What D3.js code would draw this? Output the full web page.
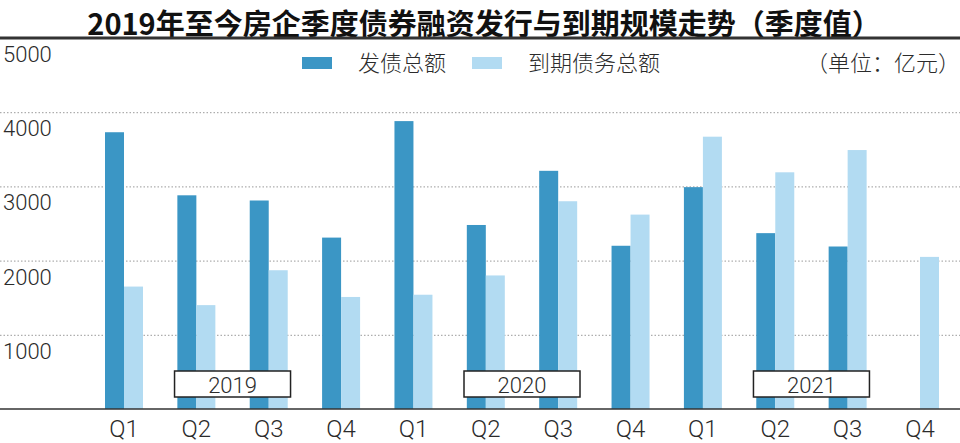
<!DOCTYPE html>
<html>
<head>
<meta charset="utf-8">
<script src="https://cdn.jsdelivr.net/npm/d3@7"></script>
<style>
  body { margin: 0; background: #fff; }
  svg { display: block; }
  .lbl { font-family: Roboto, "Noto Sans", sans-serif; font-weight: 300; fill: #2b2b2b; }
  .cjk { font-family: "Noto Sans CJK SC", sans-serif; font-weight: 300; fill: #2b2b2b; }
</style>
</head>
<body>
<svg width="960" height="443"></svg>
<script>
// quarters on the x axis, grouped by year
var years = ["2019", "2020", "2021"];
var quarters = ["Q1", "Q2", "Q3", "Q4"];
var periods = [];
years.forEach(function (y) {
    quarters.forEach(function (q) { periods.push({ id: y + q, year: y, q: q }); });
});

// 发债总额 (亿元), last quarter has no issue yet
var issued = [3730, 2880, 2810, 2310, 3880, 2480, 3210, 2200, 2990, 2370, 2190, null];
// 到期债务总额 (亿元)
var maturing = [1650, 1400, 1870, 1510, 1540, 1800, 2800, 2620, 3670, 3190, 3490, 2050];

var yTicks = [1000, 2000, 3000, 4000, 5000];
var seriesKeys = ["issued", "maturing"];
var seriesNames = ["发债总额", "到期债务总额"];
var colors = { issued: "#3b96c5", maturing: "#b2dbf2" };

var width = 960;
var svg = d3.select("svg");

var x = d3.scaleBand()
    .domain(periods.map(function (d) { return d.id; }))
    .range([105, 939])
    .paddingInner(0.475)
    .paddingOuter(0);

var xInner = d3.scaleBand()
    .domain(seriesKeys)
    .range([0, x.bandwidth()]);

var y = d3.scaleLinear()
    .domain([0, 5000])
    .range([409, 38]);

// title
svg.append("text")
    .attr("x", 484)
    .attr("y", 35)
    .attr("text-anchor", "middle")
    .style("font-family", "\"Noto Sans CJK SC\", sans-serif")
    .style("font-weight", 700)
    .style("font-size", "29px")
    .style("fill", "#111")
    .text("2019年至今房企季度债券融资发行与到期规模走势（季度值）");

// dotted grid lines
svg.append("g")
    .selectAll("line")
    .data(yTicks.filter(function (t) { return t < 5000; }))
    .enter().append("line")
    .attr("x1", 0)
    .attr("x2", width)
    .attr("y1", function (d) { return y(d) + 0.5; })
    .attr("y2", function (d) { return y(d) + 0.5; })
    .attr("stroke", "#9a9a9a")
    .attr("stroke-width", 1)
    .attr("stroke-dasharray", "1.5,2");

// top rule (5000)
svg.append("line")
    .attr("x1", 0).attr("x2", width)
    .attr("y1", y(5000)).attr("y2", y(5000))
    .attr("stroke", "#333")
    .attr("stroke-width", 3);

// y labels sit under their grid line
svg.append("g")
    .selectAll("text")
    .data(yTicks)
    .enter().append("text")
    .attr("class", "lbl")
    .attr("x", 3)
    .attr("y", function (d) { return y(d) + 24; })
    .style("font-size", "22px")
    .text(function (d) { return d; });

// bars
var groups = svg.append("g")
    .selectAll("g")
    .data(periods.map(function (p, i) {
        return { id: p.id, issued: issued[i], maturing: maturing[i] };
    }))
    .enter().append("g")
    .attr("transform", function (d) { return "translate(" + x(d.id) + ",0)"; });

groups.selectAll("rect")
    .data(function (d) {
        return seriesKeys.map(function (k) { return { key: k, value: d[k] }; })
            .filter(function (e) { return e.value != null; });
    })
    .enter().append("rect")
    .attr("x", function (d) { return xInner(d.key); })
    .attr("width", xInner.bandwidth())
    .attr("y", function (d) { return y(d.value); })
    .attr("height", function (d) { return y(0) - y(d.value); })
    .attr("fill", function (d) { return colors[d.key]; });

// baseline
svg.append("line")
    .attr("x1", 0).attr("x2", width)
    .attr("y1", y(0)).attr("y2", y(0))
    .attr("stroke", "#333")
    .attr("stroke-width", 1.5);

// quarter labels
svg.append("g")
    .selectAll("text")
    .data(periods)
    .enter().append("text")
    .attr("class", "lbl")
    .attr("x", function (d) { return x(d.id) + x.bandwidth() / 2; })
    .attr("y", 437)
    .attr("text-anchor", "middle")
    .style("font-size", "24px")
    .text(function (d) { return d.q; });

// year boxes between Q2 and Q3
var yearBox = svg.append("g")
    .selectAll("g")
    .data(years)
    .enter().append("g")
    .attr("transform", function (yr) {
        var cx = (x(yr + "Q2") + x(yr + "Q3")) / 2 + x.bandwidth() / 2;
        return "translate(" + cx + ",384)";
    });

yearBox.append("rect")
    .attr("x", -58).attr("y", -13)
    .attr("width", 116).attr("height", 26)
    .attr("fill", "#fff")
    .attr("stroke", "#222")
    .attr("stroke-width", 1.5);

yearBox.append("text")
    .attr("class", "lbl")
    .attr("text-anchor", "middle")
    .attr("y", 9)
    .style("font-size", "22px")
    .text(function (d) { return d; });

// legend
var legendX = [302, 472];
var legend = svg.append("g")
    .selectAll("g")
    .data(seriesKeys)
    .enter().append("g")
    .attr("transform", function (d, i) { return "translate(" + legendX[i] + ",57)"; });

legend.append("rect")
    .attr("width", 30).attr("height", 12)
    .attr("fill", function (d) { return colors[d]; });

legend.append("text")
    .attr("class", "cjk")
    .attr("x", 56)
    .attr("y", 14)
    .style("font-size", "22px")
    .text(function (d, i) { return seriesNames[i]; });

svg.append("text")
    .attr("class", "cjk")
    .attr("x", 960)
    .attr("y", 71)
    .attr("text-anchor", "end")
    .style("font-size", "22px")
    .text("（单位：亿元）");
</script>
</body>
</html>
